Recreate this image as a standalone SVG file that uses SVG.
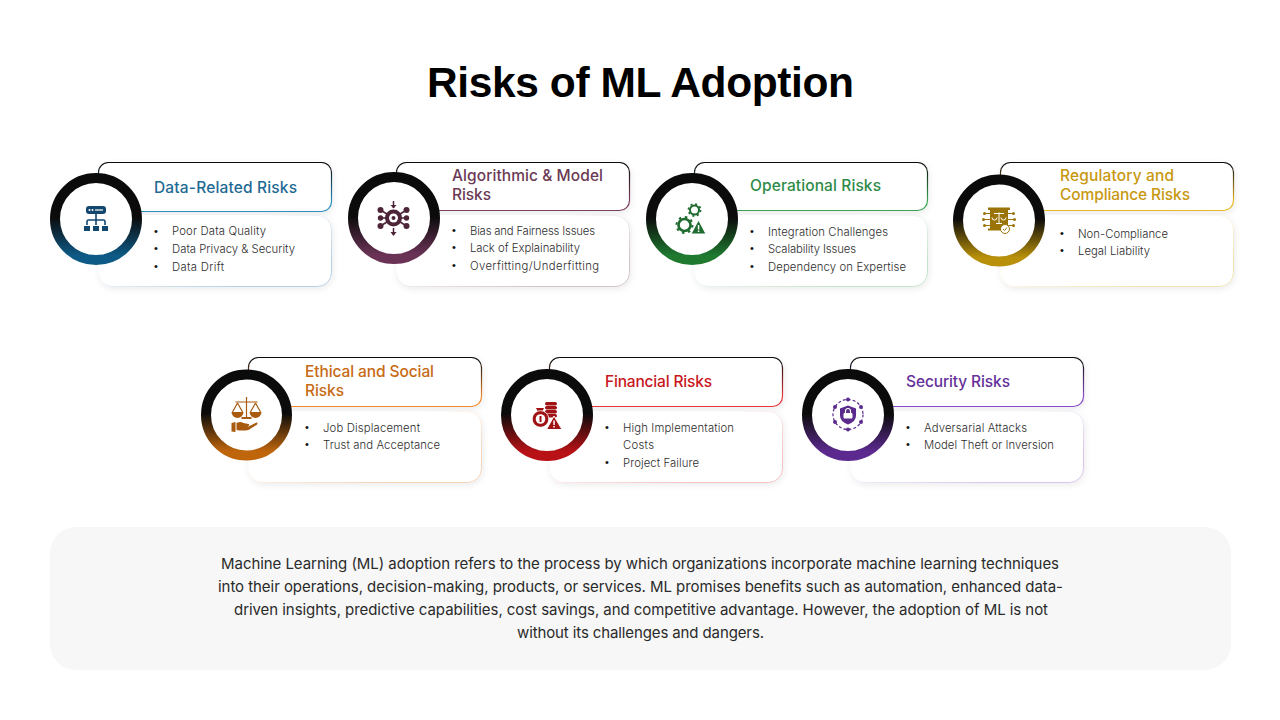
<svg xmlns="http://www.w3.org/2000/svg" width="1280" height="720" viewBox="0 0 1280 720">
<style>
.title{font:700 42.5px "Liberation Sans",Arial,sans-serif;fill:#000}
.h{font:500 15.5px Inter,"Liberation Sans",sans-serif}
.b{font:300 11.3px Inter,"Liberation Sans",sans-serif;fill:#2e2e2e}
.d{font:400 11px "Liberation Sans",sans-serif;fill:#111}
.p{font:400 15px Inter,"Liberation Sans",sans-serif;fill:#2a2a2a}
.top{fill:#fff;stroke-width:1.200;filter:url(#sh)}
.low{fill:#fff;stroke-width:1;filter:url(#sh)}
.ring{fill:#fff;stroke-width:10}
.w{fill:#fff}
.np{fill:none}
</style>
<defs>
<filter id="sh" x="-10%" y="-20%" width="120%" height="145%"><feDropShadow dx="1" dy="2" stdDeviation="3" flood-color="#000" flood-opacity="0.08"/></filter>
<linearGradient id="r1" x1="0" y1="0" x2="0" y2="1"><stop offset=".48" stop-color="#0b0b0b"/><stop offset=".95" stop-color="#0e5a86"/></linearGradient>
<linearGradient id="r2" x1="0" y1="0" x2="0" y2="1"><stop offset=".48" stop-color="#0b0b0b"/><stop offset=".95" stop-color="#6a3356"/></linearGradient>
<linearGradient id="r3" x1="0" y1="0" x2="0" y2="1"><stop offset=".48" stop-color="#0b0b0b"/><stop offset=".95" stop-color="#1f7a30"/></linearGradient>
<linearGradient id="r4" x1="0" y1="0" x2="0" y2="1"><stop offset=".48" stop-color="#0b0b0b"/><stop offset=".95" stop-color="#b8900a"/></linearGradient>
<linearGradient id="r5" x1="0" y1="0" x2="0" y2="1"><stop offset=".48" stop-color="#0b0b0b"/><stop offset=".95" stop-color="#bf660d"/></linearGradient>
<linearGradient id="r6" x1="0" y1="0" x2="0" y2="1"><stop offset=".48" stop-color="#0b0b0b"/><stop offset=".95" stop-color="#b81216"/></linearGradient>
<linearGradient id="r7" x1="0" y1="0" x2="0" y2="1"><stop offset=".48" stop-color="#0b0b0b"/><stop offset=".95" stop-color="#5c2a8f"/></linearGradient>
<linearGradient id="t1" x1="0" y1="0" x2="0" y2="1"><stop offset=".05" stop-color="#0b0b0b"/><stop offset=".8" stop-color="#2b8fc0"/></linearGradient>
<linearGradient id="t2" x1="0" y1="0" x2="0" y2="1"><stop offset=".05" stop-color="#0b0b0b"/><stop offset=".8" stop-color="#7a3f5f"/></linearGradient>
<linearGradient id="t3" x1="0" y1="0" x2="0" y2="1"><stop offset=".05" stop-color="#0b0b0b"/><stop offset=".8" stop-color="#3aa352"/></linearGradient>
<linearGradient id="t4" x1="0" y1="0" x2="0" y2="1"><stop offset=".05" stop-color="#0b0b0b"/><stop offset=".8" stop-color="#e8b82a"/></linearGradient>
<linearGradient id="t5" x1="0" y1="0" x2="0" y2="1"><stop offset=".05" stop-color="#0b0b0b"/><stop offset=".8" stop-color="#ee8a2c"/></linearGradient>
<linearGradient id="t6" x1="0" y1="0" x2="0" y2="1"><stop offset=".05" stop-color="#0b0b0b"/><stop offset=".8" stop-color="#e8353b"/></linearGradient>
<linearGradient id="t7" x1="0" y1="0" x2="0" y2="1"><stop offset=".05" stop-color="#0b0b0b"/><stop offset=".8" stop-color="#8a4cc8"/></linearGradient>
<linearGradient id="l1" x1="0" y1="0" x2="1" y2="1"><stop offset=".35" stop-color="#ffffff"/><stop offset=".8" stop-color="#b5d0e4"/></linearGradient>
<linearGradient id="l2" x1="0" y1="0" x2="1" y2="1"><stop offset=".35" stop-color="#ffffff"/><stop offset=".8" stop-color="#d3c3cc"/></linearGradient>
<linearGradient id="l3" x1="0" y1="0" x2="1" y2="1"><stop offset=".35" stop-color="#ffffff"/><stop offset=".8" stop-color="#c6e3cd"/></linearGradient>
<linearGradient id="l4" x1="0" y1="0" x2="1" y2="1"><stop offset=".35" stop-color="#ffffff"/><stop offset=".8" stop-color="#f2e3b4"/></linearGradient>
<linearGradient id="l5" x1="0" y1="0" x2="1" y2="1"><stop offset=".35" stop-color="#ffffff"/><stop offset=".8" stop-color="#f5d3b7"/></linearGradient>
<linearGradient id="l6" x1="0" y1="0" x2="1" y2="1"><stop offset=".35" stop-color="#ffffff"/><stop offset=".8" stop-color="#f5c2c3"/></linearGradient>
<linearGradient id="l7" x1="0" y1="0" x2="1" y2="1"><stop offset=".35" stop-color="#ffffff"/><stop offset=".8" stop-color="#d8c5ec"/></linearGradient>
</defs>
<rect width="1280" height="720" fill="#fff"/>
<text class="title" x="427" y="97" textLength="427">Risks of ML Adoption</text>

<g id="node-data">
<rect class="top" x="98.500" y="162.500" width="233" height="49" rx="10" stroke="url(#t1)"/>
<rect class="low" x="98.500" y="215.500" width="233" height="71" rx="14" stroke="url(#l1)"/>
<circle class="ring" cx="96" cy="219" r="41" stroke="url(#r1)"/>
<g transform="translate(96,219)" fill="#14476e" stroke="none">
<rect x="-10" y="-13" width="20" height="8" rx="3"/><circle class="w" cx="-6.500" cy="-9" r="1"/><circle class="w" cx="-3.500" cy="-9" r="1"/><rect class="w" x="-1" y="-9.600" width="8" height="1.200"/>
<path class="np" d="M-9 6V2.500Q-9 1 -7.500 1H7.500Q9 1 9 2.500V6M0 -5V6" stroke="#14476e" stroke-width="1.600"/>
<rect x="-12" y="7" width="6" height="5"/><rect x="-3" y="7" width="6" height="5"/><rect x="6" y="7" width="6" height="5"/>
</g>
<text class="h" fill="#1f6a94" x="154" y="193" textLength="143">Data-Related Risks</text>
<text class="d" x="154" y="235">•</text><text class="b" x="172" y="235" textLength="94">Poor Data Quality</text>
<text class="d" x="154" y="252">•</text><text class="b" x="172" y="253" textLength="123">Data Privacy &amp; Security</text>
<text class="d" x="154" y="270">•</text><text class="b" x="172" y="271" textLength="52">Data Drift</text>
</g>

<g id="node-algorithmic">
<rect class="top" x="396.500" y="162.500" width="233" height="48" rx="10" stroke="url(#t2)"/>
<rect class="low" x="396.500" y="215.500" width="233" height="71" rx="14" stroke="url(#l2)"/>
<circle class="ring" cx="394" cy="218" r="41" stroke="url(#r2)"/>
<g transform="translate(393.500,218)" fill="#4d2438">
<path class="np" d="M-13 -8L-5 -3M-13 0H-6M-13 8L-5 3M13 -8L5 -3M13 0H6M13 8L5 3M0 -17V-10M0 10V17" stroke="#4d2438" stroke-width="1.500"/>
<circle cx="-13" cy="-8" r="3"/><circle cx="-13" cy="0" r="2.700"/><circle cx="-13" cy="8" r="3"/><circle cx="13" cy="-8" r="3"/><circle cx="13" cy="0" r="2.700"/><circle cx="13" cy="8" r="3"/>
<path d="M-3 -13H3L0 -9.500ZM-3 14H3L0 18Z"/>
<circle r="8.500"/><circle class="w" r="4.500"/><circle r="2"/>
</g>
<text class="h" fill="#6b3a55" x="452" y="181" textLength="151">Algorithmic &amp; Model</text>
<text class="h" fill="#6b3a55" x="452" y="200" textLength="39">Risks</text>
<text class="d" x="452" y="234">•</text><text class="b" x="470" y="235" textLength="125">Bias and Fairness Issues</text>
<text class="d" x="452" y="251">•</text><text class="b" x="470" y="252" textLength="110">Lack of Explainability</text>
<text class="d" x="452" y="269">•</text><text class="b" x="470" y="270" textLength="129">Overfitting/Underfitting</text>
</g>

<g id="node-operational">
<rect class="top" x="694.500" y="162.500" width="233" height="48" rx="10" stroke="url(#t3)"/>
<rect class="low" x="694.500" y="215.500" width="233" height="71" rx="14" stroke="url(#l3)"/>
<circle class="ring" cx="692" cy="219" r="41" stroke="url(#r3)"/>
<g transform="translate(692,219)">
<circle class="np" cx="2.500" cy="-9" r="4.500" stroke="#1f6b30" stroke-width="2"/>
<circle class="np" cx="2.500" cy="-9" r="6" stroke="#1f6b30" stroke-width="1.800" stroke-dasharray="2 2.700"/>
<circle class="np" cx="-7.500" cy="6" r="6" stroke="#1f6b30" stroke-width="2.600"/>
<circle class="np" cx="-7.500" cy="6" r="8" stroke="#1f6b30" stroke-width="2" stroke-dasharray="2.500 3.800"/>
<path d="M6.500 1L-1 15H14Z" fill="#1f6b30" stroke="#fff" stroke-width="1"/>
<rect class="w" x="5.800" y="6" width="1.500" height="4.500"/><rect class="w" x="5.800" y="11.500" width="1.500" height="1.500"/>
</g>
<text class="h" fill="#2e8b47" x="750" y="191" textLength="131">Operational Risks</text>
<text class="d" x="750" y="235">•</text><text class="b" x="768" y="236" textLength="120">Integration Challenges</text>
<text class="d" x="750" y="252">•</text><text class="b" x="768" y="253" textLength="88">Scalability Issues</text>
<text class="d" x="750" y="270">•</text><text class="b" x="768" y="271" textLength="138">Dependency on Expertise</text>
</g>

<g id="node-regulatory">
<rect class="top" x="1000.500" y="162.500" width="233" height="48" rx="10" stroke="url(#t4)"/>
<rect class="low" x="1000.500" y="215.500" width="233" height="71" rx="14" stroke="url(#l4)"/>
<circle class="ring" cx="999" cy="220.500" r="41" stroke="url(#r4)"/>
<g transform="translate(999,220.500)" fill="#9a7408">
<path class="np" d="M-14 -7H-9M-15 -1H-9M-14 5H-9M14 -7H9M15 -1H9M14 5H9" stroke="#9a7408" stroke-width="1.200"/>
<circle cx="-14.500" cy="-7" r="1.500"/><circle cx="-15.500" cy="-1" r="1.500"/><circle cx="-14.500" cy="5" r="1.500"/><circle cx="14.500" cy="-7" r="1.500"/><circle cx="15.500" cy="-1" r="1.500"/><circle cx="14.500" cy="5" r="1.500"/>
<rect x="-11" y="-13" width="22" height="2.500"/><rect x="-9" y="-11" width="18" height="20"/><rect x="-11" y="8" width="20" height="2"/>
<path class="np" d="M-5 -7H5M0 -8V3M-3 3H3M-7 -3A2.500 2.500 0 0 0 -2 -3M2 -3A2.500 2.500 0 0 0 7 -3" stroke="#fff" stroke-width="1"/>
<circle cx="6" cy="8.500" r="4.500" fill="#fff" stroke="#9a7408" stroke-width="1"/>
<path class="np" d="M4 8.500L5.500 10L8 7" stroke="#9a7408" stroke-width="1"/>
</g>
<text class="h" fill="#c8980f" x="1060" y="181" textLength="114">Regulatory and</text>
<text class="h" fill="#c8980f" x="1060" y="200" textLength="130">Compliance Risks</text>
<text class="d" x="1060" y="237">•</text><text class="b" x="1078" y="238" textLength="90">Non-Compliance</text>
<text class="d" x="1060" y="254">•</text><text class="b" x="1078" y="255" textLength="72">Legal Liability</text>
</g>

<g id="node-ethical">
<rect class="top" x="248.500" y="357.500" width="233" height="49" rx="10" stroke="url(#t5)"/>
<rect class="low" x="248.500" y="411.500" width="233" height="71" rx="14" stroke="url(#l5)"/>
<circle class="ring" cx="246.500" cy="415" r="40.500" stroke="url(#r5)"/>
<g transform="translate(246.500,415)" fill="#a85a0f">
<path class="np" d="M0 -18V2M-11 -13H11M-9 -12L-14 -3M-9 -12L-4 -3M9 -12L4 -3M9 -12L14 -3" stroke="#a85a0f" stroke-width="1.200"/>
<path d="M-15 -3H-3A6 6 0 0 1 -15 -3ZM3 -3H15A6 6 0 0 1 3 -3Z"/>
<rect x="-5" y="2" width="10" height="2"/>
<path d="M-15 8L-11 7V17L-15 16.500ZM-10 8Q-6 6 -3 8L2 9Q4 10 1 11.500L-3 11.500L2 11.500L10 7.500Q12 8 10 10L2 15Q-4 16 -10 15Z"/>
</g>
<text class="h" fill="#c76a14" x="305" y="377" textLength="129">Ethical and Social</text>
<text class="h" fill="#c76a14" x="305" y="396" textLength="39">Risks</text>
<text class="d" x="305" y="431">•</text><text class="b" x="323" y="432" textLength="97">Job Displacement</text>
<text class="d" x="305" y="448">•</text><text class="b" x="323" y="449" textLength="117">Trust and Acceptance</text>
</g>

<g id="node-financial">
<rect class="top" x="549.500" y="357.500" width="233" height="49" rx="10" stroke="url(#t6)"/>
<rect class="low" x="549.500" y="411.500" width="233" height="71" rx="14" stroke="url(#l6)"/>
<circle class="ring" cx="547" cy="415" r="41" stroke="url(#r6)"/>
<g transform="translate(547,415)" fill="#a01214">
<rect x="-2" y="-13" width="12" height="3.500" rx="1.700"/><rect x="-2" y="-9" width="12" height="3.500" rx="1.700"/><rect x="-2" y="-5" width="12" height="3.500" rx="1.700"/><rect x="-2" y="-1" width="12" height="3.500" rx="1.700"/>
<path d="M-11 -7H-3L-5 -3H-9Z"/>
<circle cx="-6.500" cy="4" r="8.300" stroke="#fff" stroke-width=".8"/><circle class="w" cx="-6.500" cy="4" r="4.800"/><rect x="-7.500" y="1" width="2" height="6"/>
<path d="M7 1L-.5 14.500H15Z" stroke="#fff" stroke-width="1"/>
<rect class="w" x="6.300" y="5.500" width="1.500" height="4.500"/><rect class="w" x="6.300" y="11" width="1.500" height="1.500"/>
</g>
<text class="h" fill="#c8161d" x="605" y="387" textLength="107">Financial Risks</text>
<text class="d" x="605" y="431">•</text><text class="b" x="623" y="432" textLength="111">High Implementation</text>
<text class="b" x="623" y="449" textLength="31">Costs</text>
<text class="d" x="605" y="466">•</text><text class="b" x="623" y="467" textLength="76">Project Failure</text>
</g>

<g id="node-security">
<rect class="top" x="850.500" y="357.500" width="233" height="49" rx="10" stroke="url(#t7)"/>
<rect class="low" x="850.500" y="411.500" width="233" height="71" rx="14" stroke="url(#l7)"/>
<circle class="ring" cx="848" cy="415" r="41" stroke="url(#r7)"/>
<g transform="translate(848,414.500)" fill="#5a2a8c">
<circle class="np" r="15" stroke="#5a2a8c" stroke-width="1.200" stroke-dasharray="3 2"/>
<circle cx="0" cy="-15" r="2"/><circle cx="13" cy="-7.500" r="2"/><circle cx="13" cy="7.500" r="2"/><circle cx="0" cy="15" r="2"/><circle cx="-13" cy="7.500" r="2"/><circle cx="-13" cy="-7.500" r="2"/>
<path d="M0 -9L8 -6V1Q8 7 0 10Q-8 7 -8 1V-6Z"/>
<rect class="w" x="-4.500" y="-1.500" width="9" height="5.500" rx="1"/>
<path class="np" d="M-2.500 -1.500V-3.500A2.500 2.500 0 0 1 2.500 -3.500V-1.500" stroke="#fff" stroke-width="1.200"/>
</g>
<text class="h" fill="#65309a" x="906" y="387" textLength="104">Security Risks</text>
<text class="d" x="906" y="431">•</text><text class="b" x="924" y="432" textLength="103">Adversarial Attacks</text>
<text class="d" x="906" y="448">•</text><text class="b" x="924" y="449" textLength="130">Model Theft or Inversion</text>
</g>

<g id="summary">
<rect x="50" y="527" width="1181" height="143" rx="26" fill="#f7f7f7"/>
<text class="p" x="221" y="569" textLength="838">Machine Learning (ML) adoption refers to the process by which organizations incorporate machine learning techniques</text>
<text class="p" x="218" y="592" textLength="845">into their operations, decision-making, products, or services. ML promises benefits such as automation, enhanced data-</text>
<text class="p" x="234" y="615" textLength="814">driven insights, predictive capabilities, cost savings, and competitive advantage. However, the adoption of ML is not</text>
<text class="p" x="517" y="638" textLength="247">without its challenges and dangers.</text>
</g>
</svg>
